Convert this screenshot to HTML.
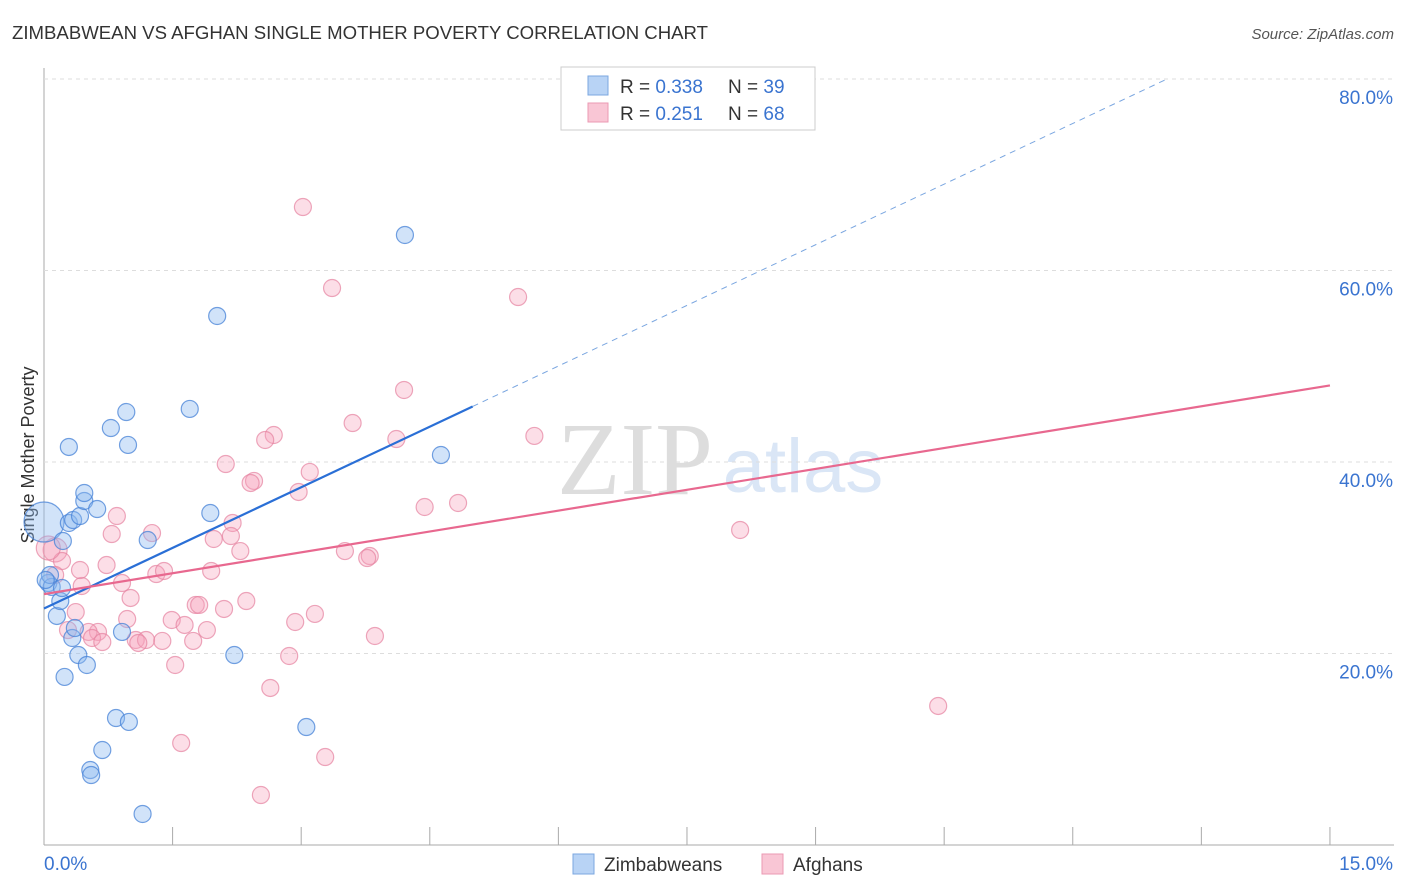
<!DOCTYPE html>
<html><head><meta charset="utf-8"><style>
body{margin:0;background:#fff;font-family:"Liberation Sans",sans-serif}
svg{display:block}
</style></head><body>
<svg id="c" width="1406" height="892">
<text x="12" y="39" font-size="18.6" fill="#333">ZIMBABWEAN VS AFGHAN SINGLE MOTHER POVERTY CORRELATION CHART</text>
<text x="1394" y="39" font-size="15" fill="#555" font-style="italic" text-anchor="end">Source: ZipAtlas.com</text>
<text x="635" y="494" font-size="104" fill="#ddd" font-family="Liberation Serif" text-anchor="middle">ZIP</text>
<text x="803" y="492" font-size="76" fill="#dae6f6" text-anchor="middle">atlas</text>
<text transform="translate(34,455) rotate(-90)" font-size="18" fill="#333" text-anchor="middle">Single Mother Poverty</text>
<g id="grid"></g><g id="pts"></g><g id="lines"></g>
<g>
<rect x="561" y="67" width="254" height="63" fill="#fff" stroke="#ccc"/>
<rect x="588" y="76" width="20" height="19" fill="#b8d3f5" stroke="#7ba7e0"/>
<rect x="588" y="103" width="20" height="19" fill="#f9c6d5" stroke="#eb9ab3"/>
<text x="620" y="93" font-size="19" fill="#333">R = <tspan fill="#3a74d0">0.338</tspan><tspan x="728">N = </tspan><tspan fill="#3a74d0">39</tspan></text>
<text x="620" y="120" font-size="19" fill="#333">R = <tspan fill="#3a74d0"> 0.251</tspan><tspan x="728">N = </tspan><tspan fill="#3a74d0">68</tspan></text>
</g>
<g>
<rect x="573" y="854" width="21" height="20" fill="#b8d3f5" stroke="#7ba7e0"/>
<text x="604" y="871" font-size="19" fill="#333">Zimbabweans</text>
<rect x="762" y="854" width="21" height="20" fill="#f9c6d5" stroke="#eb9ab3"/>
<text x="793" y="871" font-size="19" fill="#333">Afghans</text>
</g>
</svg>
<script>
const bluePx=[[44,522,20],[48,583],[52,587],[57,616],[60,601],[62,588],[65,677],[69,447],[69,523],[72,638],[73,520],[75,628],[78,655],[80,516],[84,501],[84,493],[87,665],[90,770],[91,775],[97,509],[102,750],[111,428],[116,718],[122,632],[126,412],[128,445],[129,722],[143,814],[148,540],[190,409],[210,513],[217,316],[234,655],[306,727],[405,235],[441,455],[63,541],[50,575],[46,580]];
const pinkPx=[[303,207],[332,288],[518,297],[404,390],[353,423],[534,436],[396,439],[274,435],[265,440],[226,464],[310,472],[254,481],[251,483],[299,492],[425,507],[458,503],[740,530],[117,516],[152,533],[233,523],[112,534],[214,539],[231,536],[240,551],[345,551],[370,556],[367,558],[55,550,12],[62,561],[107,565],[156,574],[164,571],[122,583],[211,571],[82,586],[131,598],[246,601],[196,605],[199,605],[224,609],[76,612],[172,620],[127,619],[315,614],[295,622],[185,625],[207,630],[98,632],[89,632],[68,630],[92,638],[102,642],[136,640],[146,640],[138,643],[162,641],[193,641],[375,636],[175,665],[289,656],[270,688],[938,706],[181,743],[325,757],[261,795],[48,548,12],[55,575],[80,570]];
const X0=44,XS=85.73,Y0=845,YS=9.575;
const blueX=bluePx.map(p=>+((p[0]-X0)/XS).toFixed(2));
const blueY=bluePx.map(p=>+((Y0-p[1])/YS).toFixed(2));
const pinkX=pinkPx.map(p=>+((p[0]-X0)/XS).toFixed(2));
const pinkY=pinkPx.map(p=>+((Y0-p[1])/YS).toFixed(2));
const yTicks=[20,40,60,80];
const yTickLabels=["20.0%","40.0%","60.0%","80.0%"];
const xTicks=[0,1.5,3,4.5,6,7.5,9,10.5,12,13.5,15];
const blueTrend=[[0,24.7],[5,45.8],[13.1,80]];
const pinkTrend=[[0,26.2],[15,48.0]];
const sx=v=>X0+v*XS, sy=v=>Y0-v*YS;
const NS="http://www.w3.org/2000/svg";
function mk(t,a,par){const e=document.createElementNS(NS,t);for(const k in a)e.setAttribute(k,a[k]);document.getElementById(par).appendChild(e);return e;}
let e;
e=mk('line',{x1:44,y1:68,x2:44,y2:845,stroke:'#aaa'},'grid');


e=mk('line',{x1:44,y1:845,x2:1394,y2:845,stroke:'#aaa'},'grid');


yTicks.forEach((t,i)=>{
 e=mk('line',{x1:44,y1:sy(t),x2:1394,y2:sy(t),stroke:'#ddd','stroke-dasharray':'4,4'},'grid');
 
 
 e=mk('text',{x:1393,y:sy(t)+25,'font-size':19,fill:'#3a74d0','text-anchor':'end'},'grid');
 e.textContent=yTickLabels[i];
 
 
});
xTicks.forEach(t=>{
 e=mk('line',{x1:sx(t),y1:827,x2:sx(t),y2:845,stroke:'#aaa'},'grid');
 
 
});
e=mk('text',{x:44,y:870,'font-size':19,fill:'#3a74d0'},'grid');e.textContent='0.0%';


e=mk('text',{x:1393,y:870,'font-size':19,fill:'#3a74d0','text-anchor':'end'},'grid');e.textContent='15.0%';


pinkX.forEach((x,i)=>{
 e=mk('circle',{cx:sx(x),cy:sy(pinkY[i]),r:pinkPx[i][2]||8.5,fill:'rgba(245,160,185,0.35)',stroke:'rgba(230,130,160,0.7)','stroke-width':1.2},'pts');
 
 
});
blueX.forEach((x,i)=>{
 e=mk('circle',{cx:sx(x),cy:sy(blueY[i]),r:bluePx[i][2]||8.5,fill:'rgba(140,185,240,0.4)',stroke:'rgba(70,130,215,0.75)','stroke-width':1.2},'pts');
 
 
});
e=mk('line',{x1:sx(blueTrend[0][0]),y1:sy(blueTrend[0][1]),x2:sx(blueTrend[1][0]),y2:sy(blueTrend[1][1]),stroke:'#2a6fd6','stroke-width':2.2},'lines');


e=mk('line',{x1:sx(blueTrend[1][0]),y1:sy(blueTrend[1][1]),x2:sx(blueTrend[2][0]),y2:sy(blueTrend[2][1]),stroke:'#7aa6e0','stroke-width':1,'stroke-dasharray':'6,5'},'lines');


e=mk('line',{x1:sx(pinkTrend[0][0]),y1:sy(pinkTrend[0][1]),x2:sx(pinkTrend[1][0]),y2:sy(pinkTrend[1][1]),stroke:'#e8688f','stroke-width':2.2},'lines');


</script>
</body></html>
